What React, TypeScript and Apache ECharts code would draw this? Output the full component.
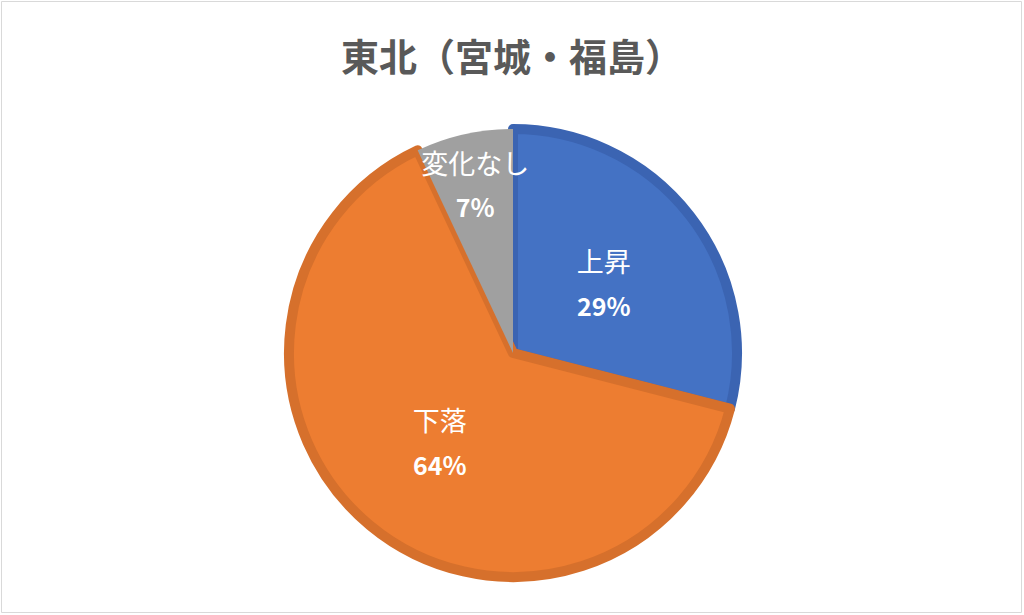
import React, { useEffect, useRef } from 'react'
import * as echarts from 'echarts'

const categories = ['上昇', '下落', '変化なし']
const values = [29, 64, 7]
const fillColors = ['#4472C4', '#ED7D31', '#A0A0A0']
const borderColors = ['#3B64B2', '#D6702C', '#A0A0A0']
const chartTitle = '東北（宮城・福島）'

const App: React.FC = () => {
    const chartRef = useRef<HTMLDivElement>(null)

    useEffect(() => {
        const chart = echarts.init(chartRef.current, null, { renderer: 'svg' })

        const labelFormatter = (p: { name: string; percent: number }) =>
            `{n|${p.name}}\n{p|${Math.round(p.percent)}%}`

        const labelRich = {
            n: { color: '#fff', fontSize: 27, fontWeight: 'normal', lineHeight: 44, fontFamily: 'Noto Sans CJK JP' },
            p: { color: '#fff', fontSize: 25, fontWeight: 'bold', lineHeight: 44, fontFamily: 'Noto Sans CJK JP' },
        }

        // main slices; the small slice's label sits further out, drawn by a second ring
        const mainData = categories.map((name, i) => ({
            name,
            value: values[i],
            itemStyle: { color: fillColors[i], borderColor: borderColors[i], borderWidth: i === 2 ? 0 : 10 },
            label: { show: i !== 2 },
        }))

        const labelData = categories.map((name, i) => ({
            name,
            value: values[i],
            label: { show: i === 2 },
        }))

        const option = {
            animation: false,
            backgroundColor: '#fff',
            title: {
                text: chartTitle,
                left: 'center',
                top: 30,
                textStyle: { fontSize: 38, fontWeight: 'bold', color: '#595959', fontFamily: 'Noto Sans CJK JP' },
            },
            graphic: [
                {
                    type: 'rect',
                    shape: { x: 1.5, y: 1.5, width: 1020, height: 611 },
                    style: { fill: 'none', stroke: '#d9d9d9', lineWidth: 1 },
                    silent: true,
                },
            ],
            series: [
                {
                    type: 'pie',
                    center: [513, 353],
                    radius: [0, 224],
                    startAngle: 90,
                    clockwise: true,
                    data: mainData,
                    label: { position: 'inside', formatter: labelFormatter, rich: labelRich },
                    labelLine: { show: false },
                },
                {
                    type: 'pie',
                    center: [513, 353],
                    radius: [112, 228],
                    startAngle: 90,
                    clockwise: true,
                    silent: true,
                    data: labelData,
                    itemStyle: { color: 'rgba(0,0,0,0)', borderWidth: 0 },
                    label: { position: 'inside', formatter: labelFormatter, rich: labelRich },
                    labelLine: { show: false },
                },
            ],
        }

        chart.setOption(option)

        return () => {
            chart.dispose()
        }
    }, [])

    return (
        <div style={{ position: 'absolute', left: 0, top: 0, width: 1024, height: 615 }}>
            <div ref={chartRef} style={{ width: '1024px', height: '615px' }} />
        </div>
    )
}

export default App
